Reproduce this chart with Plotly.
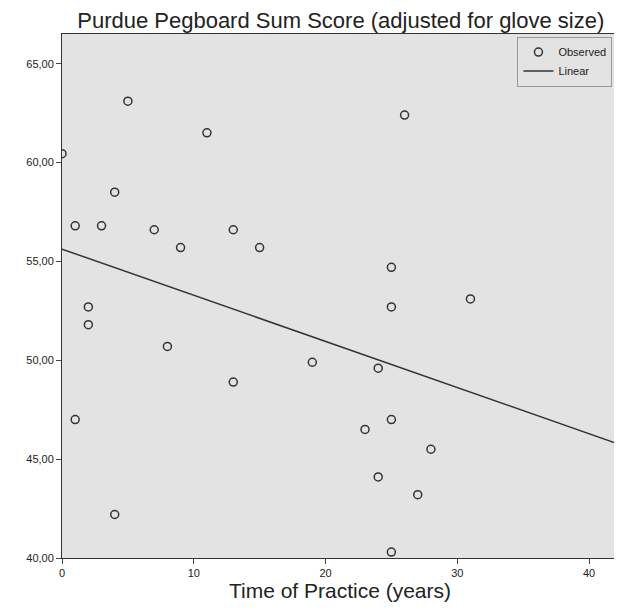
import numpy as np
import plotly.graph_objects as go

practice_years = [0,1,1,2,2,4,3,4,5,7,8,9,11,13,13,15,19,23,24,24,25,25,25,25,26,27,28,31]
pegboard_score = [60.45,56.8,47.0,52.7,51.8,42.2,56.8,58.5,63.1,56.6,50.7,55.7,61.5,56.6,48.9,55.7,49.9,46.5,49.6,44.1,54.7,52.7,47.0,40.3,62.4,43.2,45.5,53.1]
y_ticks = [40,45,50,55,60,65]
y_tick_labels = ["40,00","45,00","50,00","55,00","60,00","65,00"]
x_ticks = [0,10,20,30,40]

b, a = np.polyfit(practice_years, pegboard_score, 1)
xl = np.array([0, 42.2])

fig = go.Figure()
fig.add_trace(go.Scatter(x=practice_years, y=pegboard_score, mode="markers", name="Observed",
    marker=dict(symbol="circle-open", size=8, color="#333", line=dict(width=1.5))))
fig.add_trace(go.Scatter(x=xl, y=a + b*xl, mode="lines", name="Linear", line=dict(color="#333", width=1.5)))
fig.update_layout(
    width=622, height=614, paper_bgcolor="white", plot_bgcolor="#e3e3e3",
    margin=dict(l=54, r=12, t=26, b=64, autoexpand=False),
    title=dict(text="Purdue Pegboard Sum Score (adjusted for glove size)", x=0.535, y=0.992, xanchor="center",
               font=dict(family="Liberation Sans", size=22, color="#222")),
    font=dict(family="Liberation Sans", color="#222"),
    legend=dict(x=0.99, y=0.995, xanchor="right", yanchor="top", bgcolor="rgba(0,0,0,0)",
                bordercolor="#999", borderwidth=1, font=dict(size=11), tracegroupgap=0, itemwidth=30),
    xaxis=dict(range=[0, 42.2], tickvals=x_ticks, showgrid=False, zeroline=False, ticks="outside", automargin=False,
               showline=True, linecolor="#333", mirror=True, tickfont=dict(size=11),
               title=dict(text="Time of Practice (years)", font=dict(size=21), standoff=4)),
    yaxis=dict(range=[40, 66.5], tickvals=y_ticks, ticktext=y_tick_labels, showgrid=False, zeroline=False, automargin=False,
               ticks="outside", showline=True, linecolor="#333", mirror=True, tickfont=dict(size=11)),
)
fig.write_html("out.html")
